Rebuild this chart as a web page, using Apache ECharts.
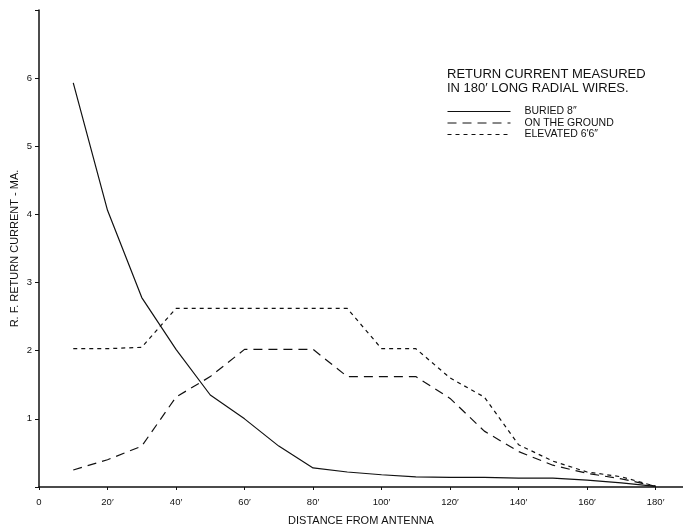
<!DOCTYPE html>
<html>
<head>
<meta charset="utf-8">
<script src="https://cdn.jsdelivr.net/npm/echarts@6/dist/echarts.min.js"></script>
<style>
  html, body { margin: 0; padding: 0; background: #fff; }
  #chart { width: 683px; height: 527px; }
</style>
</head>
<body>
<div id="chart"></div>
<script>
// distance from antenna, feet
var distance = [10, 20, 30, 40, 50, 60, 70, 80, 90, 100, 110, 120, 130, 140, 150, 160, 170, 180];
// return current, mA
var buried   = [5.93, 4.06, 2.78, 2.02, 1.35, 1.0, 0.6, 0.28, 0.22, 0.18, 0.15, 0.14, 0.14, 0.13, 0.13, 0.1, 0.06, 0.01];
var ground   = [0.25, 0.4, 0.6, 1.32, 1.62, 2.02, 2.02, 2.02, 1.62, 1.62, 1.62, 1.3, 0.82, 0.52, 0.32, 0.2, 0.12, 0.01];
var elevated = [2.03, 2.03, 2.05, 2.62, 2.62, 2.62, 2.62, 2.62, 2.62, 2.03, 2.03, 1.6, 1.32, 0.62, 0.38, 0.22, 0.15, 0.01];
var seriesNames = ['BURIED 8\u2033', 'ON THE GROUND', 'ELEVATED 6\u20326\u2033'];
var yTicks = [1, 2, 3, 4, 5, 6];

var ink = '#111';
var font = '"Liberation Sans", Arial, sans-serif';

function pairs(vals) {
  var out = [];
  for (var i = 0; i < distance.length; i++) {
    out.push([distance[i], vals[i]]);
  }
  return out;
}

function lineSeries(name, vals, dash) {
  return {
    name: name,
    type: 'line',
    data: pairs(vals),
    symbol: 'none',
    silent: true,
    animation: false,
    itemStyle: {color: ink},
    lineStyle: {color: ink, width: 1.2, type: dash}
  };
}

var chart = echarts.init(document.getElementById('chart'), null, {renderer: 'canvas'});
var option = {
  backgroundColor: '#fff',
  animation: false,
  title: {
    text: 'RETURN CURRENT MEASURED\nIN 180\u2032 LONG RADIAL WIRES.',
    left: 447,
    top: 67,
    padding: 0,
    textStyle: {fontFamily: font, fontSize: 13, fontWeight: 'normal', color: ink, lineHeight: 14}
  },
  legend: {
    orient: 'vertical',
    left: 447,
    top: 106,
    padding: 0,
    itemWidth: 63,
    itemHeight: 11,
    itemGap: 0.5,
    data: seriesNames,
    selectedMode: false,
    itemStyle: {opacity: 0},
    lineStyle: {width: 1},
    textStyle: {fontFamily: font, fontSize: 10.5, color: ink, padding: [0, 0, 0, 9]}
  },
  grid: {left: 39, right: 0, top: 10, bottom: 40, containLabel: false, outerBoundsMode: 'none'},
  xAxis: {
    type: 'value',
    min: 0,
    max: 188,
    interval: 20,
    name: 'DISTANCE FROM ANTENNA',
    nameLocation: 'middle',
    nameGap: 28,
    nameMoveOverlap: false,
    nameTextStyle: {fontFamily: font, fontSize: 11, color: ink},
    axisLine: {show: true, lineStyle: {color: ink, width: 1.5}},
    axisTick: {show: true, length: 3, lineStyle: {color: ink}},
    axisLabel: {
      fontFamily: font, fontSize: 9.5, color: ink, margin: 10,
      formatter: function(v) {
        if (v % 20 !== 0) return '';
        return v === 0 ? '0' : v + '\u2032';
      }
    },
    splitLine: {show: false}
  },
  yAxis: {
    type: 'value',
    min: 0,
    max: 7,
    interval: 1,
    name: 'R. F. RETURN CURRENT - MA.',
    nameLocation: 'middle',
    nameGap: 19,
    nameMoveOverlap: false,
    nameTextStyle: {fontFamily: font, fontSize: 11, color: ink},
    axisLine: {show: true, lineStyle: {color: ink, width: 1.5}},
    axisTick: {show: true, length: 4, lineStyle: {color: ink}},
    axisLabel: {
      fontFamily: font, fontSize: 9.5, color: ink, margin: 7,
      formatter: function(v) {
        return yTicks.indexOf(v) >= 0 ? String(v) : '';
      }
    },
    splitLine: {show: false}
  },
  series: [
    lineSeries(seriesNames[0], buried, 'solid'),
    lineSeries(seriesNames[1], ground, [9, 6]),
    lineSeries(seriesNames[2], elevated, [4, 4])
  ]
};
chart.setOption(option);
</script>
</body>
</html>
